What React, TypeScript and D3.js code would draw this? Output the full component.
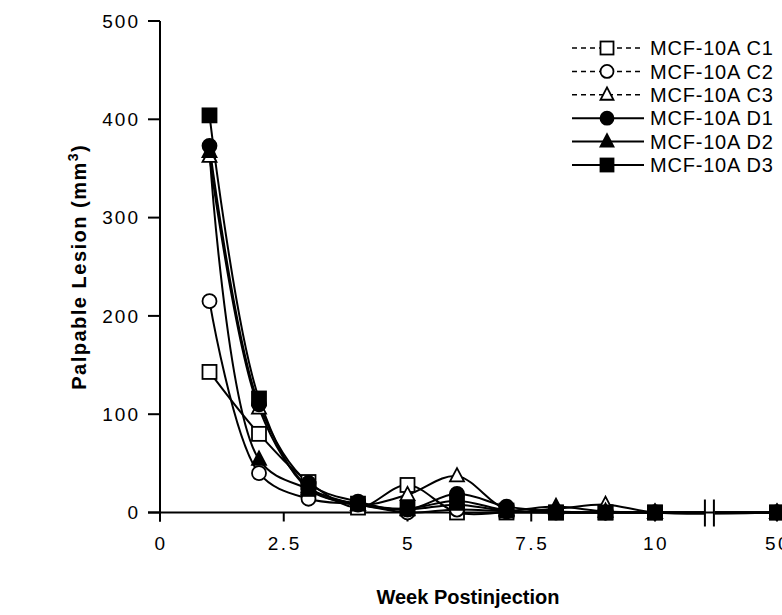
import React from "react";
import * as d3 from "d3";

const weeks = [1, 2, 3, 4, 5, 6, 7, 8, 9, 10, 50];
const seriesNames = ["MCF-10A C1", "MCF-10A C2", "MCF-10A C3", "MCF-10A D1", "MCF-10A D2", "MCF-10A D3"];
const c1 = [143, 80, 31, 5, 28, 0, 0, 0, 0, 0, 0];
const c2 = [215, 40, 14, 8, 0, 3, 1, 0, 0, 0, 0];
const c3 = [362, 106, 26, 8, 18, 37, 3, 4, 8, 0, 0];
const d1 = [373, 110, 30, 11, 3, 19, 6, 1, 0, 0, 0];
const d2 = [367, 54, 24, 8, 3, 8, 2, 6, 1, 0, 0];
const d3v = [404, 116, 24, 9, 4, 12, 2, 0, 0, 0, 0];
const seriesValues = [c1, c2, c3, d1, d2, d3v];
const markers = ["square", "circle", "triangle", "circle", "triangle", "square"];
const filled = [false, false, false, true, true, true];
const yTicks = [0, 100, 200, 300, 400, 500];
const xTicks = [0, 2.5, 5, 7.5, 10, 50];

const FONT = "'Liberation Sans', Arial, Helvetica, sans-serif";

function Marker({ kind, x, y, fill, size }: { kind: string; x: number; y: number; fill: boolean; size: number }) {
  const f = fill ? "#000" : "#fff";
  const s = size;
  if (kind === "square") return <rect x={x - s / 2} y={y - s / 2} width={s} height={s} fill={f} stroke="#000" strokeWidth={1.8} />;
  if (kind === "circle") return <circle cx={x} cy={y} r={s / 2} fill={f} stroke="#000" strokeWidth={1.8} />;
  const h = s * 0.95;
  const p = `M${x},${y - h * 0.6} L${x + s / 2},${y + h * 0.4} L${x - s / 2},${y + h * 0.4} Z`;
  return <path d={p} fill={f} stroke="#000" strokeWidth={1.8} strokeLinejoin="miter" />;
}

export default function App() {
  const W = 782, H = 615;
  const x = d3.scaleLinear().domain([0, 10, 50]).range([160, 655, 777]);
  const y = d3.scaleLinear().domain([0, 500]).range([512.5, 21]);
  const line = d3
    .line<[number, number]>()
    .x((d) => x(d[0]))
    .y((d) => y(d[1]))
    .curve(d3.curveCatmullRom.alpha(0.5));
  const breakX = x(28);
  const legendX = 607;
  const legendY0 = 48;
  const legendDy = 23.4;
  return (
    <svg width={W} height={H} style={{ position: "absolute", left: 0, top: 0, background: "#fff" }} fontFamily={FONT}>
      <rect width={W} height={H} fill="#fff" />
      {seriesValues.map((vals, i) => (
        <path key={"l" + i} d={line(weeks.map((w, j) => [w, vals[j]] as [number, number])) || ""} fill="none" stroke="#000" strokeWidth={2} />
      ))}
      <line x1={x(0)} x2={x(0)} y1={y(500)} y2={y(0) + 9} stroke="#000" strokeWidth={2} />
      <line x1={x(0) - 12} x2={W} y1={y(0)} y2={y(0)} stroke="#000" strokeWidth={2} />
      {yTicks.map((t) => (
        <g key={"yt" + t}>
          <line x1={x(0) - 12} x2={x(0)} y1={y(t)} y2={y(t)} stroke="#000" strokeWidth={2} />
          <text x={140} y={y(t)} dy="0.36em" textAnchor="end" fontSize={19} letterSpacing={2}>{t}</text>
        </g>
      ))}
      {xTicks.map((t) => (
        <g key={"xt" + t}>
          <line x1={x(t)} x2={x(t)} y1={y(0)} y2={y(0) + 9} stroke="#000" strokeWidth={2} />
          <text x={x(t) + 1} y={y(0) + 37} textAnchor="middle" fontSize={19} letterSpacing={2.5}>{t}</text>
        </g>
      ))}
      <rect x={breakX - 5} y={y(0) - 13} width={10} height={26} fill="#fff" />
      <line x1={breakX - 5} x2={breakX - 5} y1={y(0) - 13} y2={y(0) + 14} stroke="#000" strokeWidth={2} />
      <line x1={breakX + 4} x2={breakX + 4} y1={y(0) - 13} y2={y(0) + 14} stroke="#000" strokeWidth={2} />
      <line x1={breakX - 5} x2={breakX + 4} y1={y(0)} y2={y(0)} stroke="#000" strokeWidth={2} />
      {seriesValues.map((vals, i) =>
        weeks.map((w, j) => (
          <Marker key={`m${i}-${j}`} kind={markers[i]} x={x(w)} y={y(vals[j])} fill={filled[i]} size={14} />
        ))
      )}
      <text transform={`translate(86,${(y(0) + y(500)) / 2}) rotate(-90)`} textAnchor="middle" fontSize={20} fontWeight="bold" letterSpacing={1.5}>
        Palpable Lesion (mm<tspan dy={-8} fontSize={14}>3</tspan><tspan dy={8}>)</tspan>
      </text>
      <text x={468} y={604} textAnchor="middle" fontSize={20} fontWeight="bold">Week Postinjection</text>
      {seriesNames.map((n, i) => {
        const ly = legendY0 + i * legendDy;
        return (
          <g key={"lg" + i}>
            <line x1={legendX - 35} x2={legendX + 37} y1={ly} y2={ly} stroke="#000" strokeWidth={filled[i] ? 2 : 1.5} strokeDasharray={filled[i] ? undefined : "5,4"} />
            <Marker kind={markers[i]} x={legendX} y={ly} fill={filled[i]} size={13} />
            <text x={legendX + 43} y={ly} dy="0.36em" fontSize={20} letterSpacing={0.8}>{n}</text>
          </g>
        );
      })}
    </svg>
  );
}
